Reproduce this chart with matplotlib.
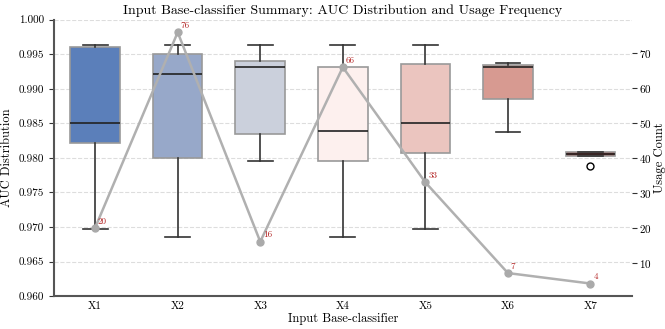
import matplotlib
matplotlib.use("Agg")
import matplotlib.pyplot as plt

plt.rcParams['font.family'] = 'serif'
plt.rcParams['font.serif'] = ['cmr10', 'DejaVu Serif']
plt.rcParams['axes.formatter.use_mathtext'] = True

# Data
classifiers = ['X1', 'X2', 'X3', 'X4', 'X5', 'X6', 'X7']
whislo = [0.9697, 0.9685, 0.9795, 0.9685, 0.9697, 0.9837, 0.9803]
q1 = [0.9822, 0.9800, 0.9835, 0.9796, 0.9807, 0.9885, 0.9803]
med = [0.9851, 0.9922, 0.9931, 0.9839, 0.9851, 0.9932, 0.9805]
q3 = [0.9960, 0.9950, 0.9941, 0.9931, 0.9936, 0.9934, 0.9808]
whishi = [0.9964, 0.9964, 0.9964, 0.9964, 0.9964, 0.9938, 0.9808]
fliers = [[], [], [], [], [], [], [0.9788]]
usage = [20, 76, 16, 66, 33, 7, 4]
colors = ['#5b7fba', '#97a8c9', '#cbd0dc', '#fdf0ee', '#ebc5bf', '#d79a91', '#a8382e']

stats = []
for i in range(len(classifiers)):
    stats.append(dict(whislo=whislo[i], q1=q1[i], med=med[i], q3=q3[i],
                      whishi=whishi[i], fliers=fliers[i], label=classifiers[i]))

fig, ax = plt.subplots(figsize=(6.65, 3.29), dpi=100)
fig.subplots_adjust(left=0.081, right=0.95, top=0.94, bottom=0.1)

pos = list(range(len(classifiers)))
bp = ax.bxp(stats, positions=pos, widths=0.6, patch_artist=True,
            boxprops=dict(edgecolor='#999999', linewidth=1.2),
            medianprops=dict(color='#222222', linewidth=1.2),
            whiskerprops=dict(color='#333333', linewidth=1.2),
            capprops=dict(color='#333333', linewidth=1.2),
            flierprops=dict(marker='o', markerfacecolor='none',
                            markeredgecolor='black', markersize=5))
for patch, c in zip(bp['boxes'], colors):
    patch.set_facecolor(c)

ax.set_xlim(-0.5, 6.5)
ax.set_ylim(0.960, 1.000)
ax.set_yticks([0.960 + 0.005 * k for k in range(9)])
ax.yaxis.set_major_formatter(matplotlib.ticker.FormatStrFormatter('%.3f'))
ax.yaxis.grid(True, linestyle='--', color='#dddddd', linewidth=0.8)
ax.set_axisbelow(True)
ax.tick_params(axis='both', labelsize=8, colors='#333333', labelcolor='black')
ax.tick_params(axis='x', length=0, pad=4)
ax.set_xticks(pos)
ax.set_xticklabels(classifiers)
for s in ['top', 'right']:
    ax.spines[s].set_visible(False)
for s in ['left', 'bottom']:
    ax.spines[s].set_color('#555555')
    ax.spines[s].set_linewidth(1.5)
ax.set_xlabel('Input Base-classifier', fontsize=9, labelpad=1)
ax.set_ylabel('AUC Distribution', fontsize=9)
ax.set_title('Input Base-classifier Summary: AUC Distribution and Usage Frequency',
             fontsize=10, pad=4)

ax2 = ax.twinx()
ax2.plot(pos, usage, color='#b0b0b0', linewidth=1.8, marker='o', markersize=5,
         markerfacecolor='#aaaaaa', markeredgecolor='#aaaaaa')
for x, u in zip(pos, usage):
    ax2.annotate(str(u), (x, u), xytext=(2, 3), textcoords='offset points',
                 color='#b22222', fontsize=6.5)
for s in ['top', 'right', 'left', 'bottom']:
    ax2.spines[s].set_visible(False)
ax2.set_yticks([10, 20, 30, 40, 50, 60, 70])
ax2.tick_params(axis='y', labelsize=8, colors='#333333', labelcolor='black', pad=2)
ax2.set_ylabel('Usage Count', fontsize=9, labelpad=1)

fig.savefig('out.png', dpi=100)
